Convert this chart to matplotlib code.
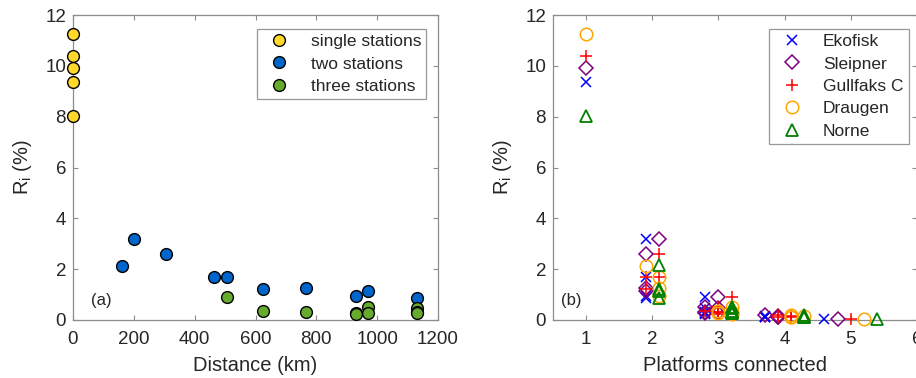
import matplotlib
matplotlib.use("Agg")
import matplotlib.pyplot as plt

plt.rcParams['font.family'] = ['Liberation Sans', 'DejaVu Sans']

# ---------------- panel (a) data ----------------
single_dist = [0, 0, 0, 0, 0]
single_ri = [11.25, 10.37, 9.90, 9.38, 8.04]

two_dist = [161, 202, 306, 463, 507, 624, 767, 929, 969, 1130]
two_ri = [2.14, 3.19, 2.58, 1.68, 1.70, 1.21, 1.25, 0.96, 1.15, 0.85]

three_dist = [507, 624, 767, 929, 929, 969, 969, 1130, 1130, 1130]
three_ri = [0.92, 0.34, 0.31, 0.27, 0.22, 0.50, 0.26, 0.46, 0.30, 0.28]

# ---------------- panel (b) data ----------------
platforms = ['Ekofisk', 'Sleipner', 'Gullfaks C', 'Draugen', 'Norne']

ekofisk_x = [1.0, 1.9, 1.9, 1.9, 1.9, 2.8, 2.8, 2.8, 2.8, 2.8, 2.8, 3.7, 3.7, 3.7, 3.7, 4.6]
ekofisk_y = [9.38, 3.19, 1.70, 0.96, 0.85, 0.92, 0.27, 0.22, 0.46, 0.30, 0.28, 0.15, 0.12, 0.10, 0.10, 0.05]

sleipner_x = [1.0, 2.1, 1.9, 1.9, 1.9, 3.0, 3.0, 3.0, 2.8, 2.8, 2.8, 3.9, 3.9, 3.9, 3.7, 4.8]
sleipner_y = [9.90, 3.19, 2.58, 1.25, 1.15, 0.92, 0.27, 0.46, 0.31, 0.50, 0.26, 0.15, 0.12, 0.10, 0.18, 0.05]

gullfaks_x = [1.0, 2.1, 2.1, 1.9, 1.9, 3.2, 3.0, 3.0, 3.0, 3.0, 2.8, 4.1, 4.1, 3.9, 3.9, 5.0]
gullfaks_y = [10.37, 2.58, 1.70, 1.68, 1.21, 0.92, 0.22, 0.30, 0.31, 0.50, 0.34, 0.15, 0.12, 0.10, 0.18, 0.05]

draugen_x = [1.0, 2.1, 2.1, 2.1, 1.9, 3.2, 3.2, 3.2, 3.0, 3.2, 3.0, 4.3, 4.1, 4.1, 4.1, 5.2]
draugen_y = [11.25, 1.68, 1.25, 0.96, 2.14, 0.27, 0.22, 0.31, 0.28, 0.50, 0.34, 0.15, 0.10, 0.10, 0.18, 0.05]

norne_x = [1.0, 2.1, 2.1, 2.1, 2.1, 3.2, 3.2, 3.2, 3.2, 3.2, 3.2, 4.3, 4.3, 4.3, 4.3, 5.4]
norne_y = [8.04, 2.17, 1.21, 1.15, 0.85, 0.46, 0.30, 0.28, 0.50, 0.26, 0.34, 0.12, 0.10, 0.10, 0.18, 0.05]

# ---------------- styling ----------------
spine_col = '#8c8c8c'
text_col = '#262626'

fig = plt.figure(figsize=(9.16, 3.78), dpi=100)
W, H = 916, 378

def add_ax(l, r, t, b):
    return fig.add_axes([l / W, 1 - b / H, (r - l) / W, (b - t) / H])

def style(ax):
    for s in ax.spines.values():
        s.set_color(spine_col)
        s.set_linewidth(0.9)
    ax.tick_params(direction='in', length=3.5, width=0.8, color=spine_col,
                   labelcolor=text_col, labelsize=13.5, top=True, right=True)
    ax.tick_params(axis='x', pad=8)
    ax.tick_params(axis='y', pad=5)
    ax.set_ylim(0, 12)
    ax.set_yticks([0, 2, 4, 6, 8, 10, 12])

def style_legend(leg):
    leg.get_frame().set_edgecolor('#7f7f7f')
    leg.get_frame().set_linewidth(0.9)
    for t in leg.get_texts():
        t.set_color(text_col)

# Panel (a)
ax1 = add_ax(73, 438, 15, 320)
style(ax1)
ax1.set_xlim(0, 1200)
ax1.set_xticks([0, 200, 400, 600, 800, 1000, 1200])
kw = dict(linestyle='none', marker='o', markersize=8.5, markeredgecolor='black',
          markeredgewidth=1.0, clip_on=False)
ax1.plot(single_dist, single_ri, markerfacecolor='#FFD829', label='single stations', zorder=3, **kw)
ax1.plot(two_dist, two_ri, markerfacecolor='#0066CC', label='two stations', zorder=3, **kw)
ax1.plot(three_dist, three_ri, markerfacecolor='#66AA2E', label='three stations', zorder=4, **kw)
ax1.set_xlabel('Distance (km)', fontsize=14.5, color=text_col, labelpad=6)
ax1.set_ylabel(r'R$_\mathregular{i}$ (%)', fontsize=14.5, color=text_col, labelpad=8)
ax1.text(60, 0.75, '(a)', fontsize=12, color=text_col, va='center')
leg1 = ax1.legend(loc='upper right', bbox_to_anchor=(0.968, 0.955), fontsize=12.5,
                  frameon=True, fancybox=False, borderpad=0.3, handletextpad=0.8,
                  labelspacing=0.42, handlelength=2.0, borderaxespad=0)
style_legend(leg1)

# Panel (b)
ax2 = add_ax(553, 917, 15, 320)
style(ax2)
ax2.set_xlim(0.5, 6)
ax2.set_xticks([1, 2, 3, 4, 5, 6])
ms = 9
ax2.plot(ekofisk_x, ekofisk_y, linestyle='none', marker='x', color='#0000FF', markersize=7,
         markeredgewidth=1.1, label='Ekofisk', clip_on=False, zorder=3)
ax2.plot(sleipner_x, sleipner_y, linestyle='none', marker='D', color='#7E0080', markersize=7,
         markerfacecolor='none', markeredgewidth=1.1, label='Sleipner', clip_on=False, zorder=3)
ax2.plot(gullfaks_x, gullfaks_y, linestyle='none', marker='+', color='#FF0000', markersize=9,
         markeredgewidth=1.1, label='Gullfaks C', clip_on=False, zorder=3)
ax2.plot(draugen_x, draugen_y, linestyle='none', marker='o', color='#FFA500', markersize=ms,
         markerfacecolor='none', markeredgewidth=1.1, label='Draugen', clip_on=False, zorder=3)
ax2.plot(norne_x, norne_y, linestyle='none', marker='^', color='#008000', markersize=ms,
         markerfacecolor='none', markeredgewidth=1.3, label='Norne', clip_on=False, zorder=3)
ax2.set_xlabel('Platforms connected', fontsize=14.5, color=text_col, labelpad=6)
ax2.set_ylabel(r'R$_\mathregular{i}$ (%)', fontsize=14.5, color=text_col, labelpad=8)
ax2.text(0.62, 0.75, '(b)', fontsize=12, color=text_col, va='center')
leg2 = ax2.legend(loc='upper left', bbox_to_anchor=(216 / 364, 0.955), fontsize=12.5,
                  frameon=True, fancybox=False, borderpad=0.3, handletextpad=0.8,
                  labelspacing=0.42, handlelength=2.0, borderaxespad=0)
style_legend(leg2)

fig.savefig('out.png', dpi=100)
